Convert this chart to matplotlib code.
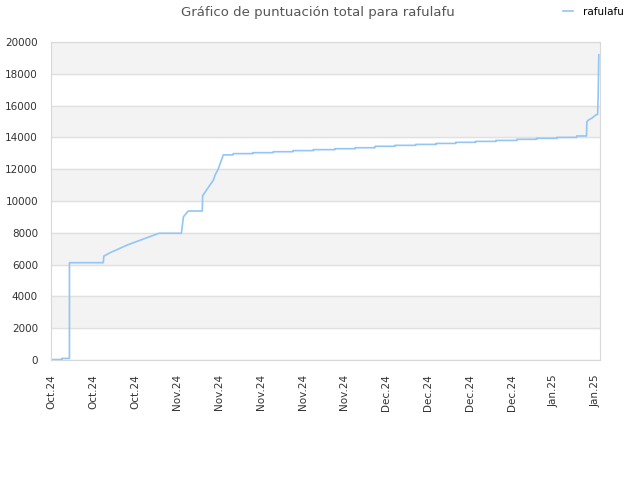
import numpy as np
import pandas as pd
import matplotlib
matplotlib.use("Agg")
import matplotlib.pyplot as plt
import matplotlib.dates as mdates

# days since 2024-10-11 and total score
days = [0.3, 1.8, 1.8, 3.05, 3.05, 8.7, 8.8, 9.85, 12.7, 18.0, 21.75, 22.1, 22.9,
        25.25, 25.3, 27.1, 27.4, 27.9, 28.75,
        30.4, 33.7, 37.1, 40.4, 43.8, 47.4, 50.8, 54.1, 57.4, 60.9, 64.3, 67.6,
        70.9, 74.3, 77.8, 81.1, 84.5, 87.8,
        89.45, 89.5, 89.8, 90.3, 91.0, 91.3, 91.4, 91.5]
score = [30, 30, 100, 100, 6120, 6120, 6540, 6750, 7230, 7970, 7970, 9010, 9370,
         9370, 10330, 11320, 11640, 12000, 12900,
         12980, 13040, 13100, 13170, 13230, 13290, 13350, 13440, 13500, 13560,
         13620, 13690, 13750, 13810, 13880, 13940, 14000, 14090,
         14090, 14990, 15100, 15200, 15410, 15450, 16670, 19190]
tick_days = list(range(0, 92, 7))

start = pd.Timestamp("2024-10-11")
x_step = [start + pd.Timedelta(days=d) for d in days]
xs, ys = [], []
# the flat stretch after the steep part climbs in small steps
for i in range(len(x_step)):
    if 19 <= i <= 37:
        xs.append(x_step[i])
        ys.append(score[i - 1])
    xs.append(x_step[i])
    ys.append(score[i])

fig = plt.figure(figsize=(6.4, 4.8), dpi=100)
ax = fig.add_axes([0.08, 0.25, 0.8575, 0.6625])

for lo in range(2000, 20000, 4000):
    ax.axhspan(lo, lo + 2000, color="#f3f3f3", zorder=0)
ax.set_yticks(np.arange(0, 20001, 2000))
ax.yaxis.grid(True, color="#e0e0e0", lw=1)
ax.set_axisbelow(True)

ax.plot(xs, ys, color="#93c5f5", lw=1.2, label="rafulafu", zorder=3)

ax.set_ylim(0, 20000)
ax.set_xlim(start, start + pd.Timedelta(days=91.7))
ax.set_xticks([start + pd.Timedelta(days=d) for d in tick_days])
ax.xaxis.set_major_formatter(mdates.DateFormatter("%b.%y"))
for lab in ax.get_xticklabels():
    lab.set_rotation(90)

ax.tick_params(axis="both", length=0, labelsize=7.5, colors="#333333")
ax.tick_params(axis="x", pad=10)
ax.tick_params(axis="y", pad=9.5)
for s in ax.spines.values():
    s.set_color("#d8d8d8")

fig.text(0.497, 0.973, "Gráfico de puntuación total para rafulafu", ha="center",
         va="center", fontsize=9.5, color="#555555")
ax.legend(loc="upper right", bbox_to_anchor=(1.06, 1.14), frameon=False,
          fontsize=7.5, handlelength=1.0, handletextpad=0.9)

fig.savefig("out.png")
